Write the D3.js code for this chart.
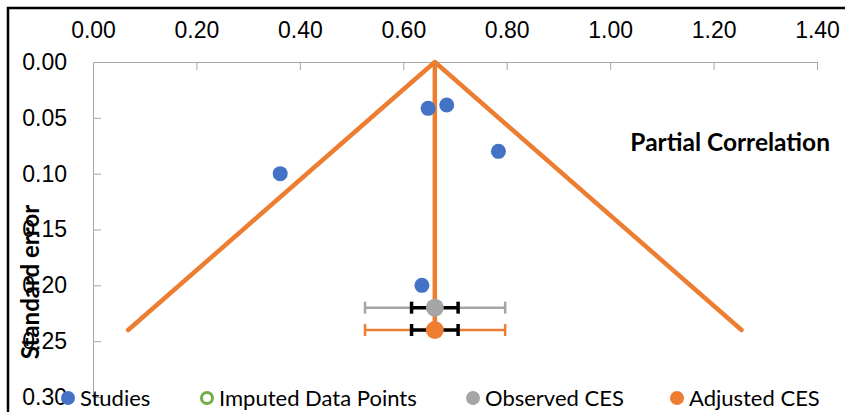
<!DOCTYPE html>
<html>
<head>
<meta charset="utf-8">
<script src="https://cdn.jsdelivr.net/npm/d3@7"></script>
<style>
  body { margin: 0; background: #fff; }
  svg { font-family: Lato, "Noto Sans", sans-serif; }
  .axis path, .axis line { stroke: #a6a6a6; }
  .axis text { fill: #000; font-size: 23px; }
</style>
</head>
<body>
<svg id="chart" width="845" height="412"></svg>
<script>
// study estimates (partial correlation) and their standard errors
const studyEffect = [0.362, 0.648, 0.684, 0.784, 0.636];
const studySE = [0.100, 0.0415, 0.0385, 0.080, 0.200];

// funnel outline: left foot, apex, right foot
const funnelEffect = [0.068, 0.661, 1.254];
const funnelSE = [0.24, 0.00, 0.24];

// combined effect sizes
const cesLabels = ['Observed CES', 'Adjusted CES'];
const cesEffect = [0.661, 0.661];
const cesSE = [0.22, 0.24];
const cesOuter = [[0.526, 0.797], [0.526, 0.797]];
const cesInner = [[0.616, 0.706], [0.616, 0.706]];

const xTicks = [0, 0.2, 0.4, 0.6, 0.8, 1.0, 1.2, 1.4];
const yTicks = [0, 0.05, 0.10, 0.15, 0.20, 0.25, 0.30];

const legendLabels = ['Studies', 'Imputed Data Points', 'Observed CES', 'Adjusted CES'];

const colors = { blue: '#4472c4', orange: '#ed7d31', gray: '#a5a5a5', green: '#70ad47' };

const svg = d3.select('#chart');

// outer frame (only top and left edges fall inside the picture)
svg.append('rect')
  .attr('x', 8).attr('y', 8)
  .attr('width', 900).attr('height', 500)
  .attr('fill', 'none').attr('stroke', '#000').attr('stroke-width', 2.5);

const x = d3.scaleLinear().domain([0, 1.4]).range([93, 817]);
const y = d3.scaleLinear().domain([0, 0.3]).range([62, 397]);

// axes
const xAxisG = svg.append('g')
  .attr('class', 'axis x-axis')
  .attr('transform', `translate(0,${y(0)})`)
  .call(d3.axisTop(x).tickValues(xTicks).tickFormat(d3.format('.2f')).tickSize(-8).tickSizeOuter(0));
xAxisG.selectAll('text').attr('y', -24).attr('dy', 0);

const yAxisG = svg.append('g')
  .attr('class', 'axis y-axis')
  .attr('transform', `translate(${x(0)},0)`)
  .call(d3.axisLeft(y).tickValues(yTicks).tickFormat(d3.format('.2f')).tickSize(-8).tickSizeOuter(0));
yAxisG.selectAll('text').attr('x', -26);
yAxisG.select('.tick:first-of-type line').remove();
xAxisG.select('.tick:first-of-type line').remove();

// axis titles
svg.append('text')
  .attr('transform', `translate(39,282) rotate(-90)`)
  .attr('text-anchor', 'middle')
  .style('font-size', '24px').style('font-weight', 'bold')
  .text('Standard error');

svg.append('text')
  .attr('x', 830).attr('y', 151)
  .attr('text-anchor', 'end')
  .style('font-size', '24.5px').style('font-weight', 'bold')
  .text('Partial Correlation');

// funnel
const funnel = funnelEffect.map((d, i) => [d, funnelSE[i]]);
svg.append('path')
  .datum(funnel)
  .attr('fill', 'none')
  .attr('stroke', colors.orange)
  .attr('stroke-width', 4.5)
  .attr('stroke-linecap', 'round')
  .attr('stroke-linejoin', 'round')
  .attr('d', d3.line().x(d => x(d[0])).y(d => y(d[1])));

// vertical line at adjusted estimate
svg.append('line')
  .attr('x1', x(cesEffect[1])).attr('x2', x(cesEffect[1]))
  .attr('y1', y(0)).attr('y2', y(cesSE[1]))
  .attr('stroke', colors.orange).attr('stroke-width', 4.5);

// error bars
const barColors = [colors.gray, colors.orange];
function errorBar(g, lo, hi, yy, color, width) {
  g.append('line')
    .attr('x1', x(lo)).attr('x2', x(hi)).attr('y1', yy).attr('y2', yy)
    .attr('stroke', color).attr('stroke-width', width);
  [lo, hi].forEach(v => {
    g.append('line')
      .attr('x1', x(v)).attr('x2', x(v)).attr('y1', yy - 6).attr('y2', yy + 6)
      .attr('stroke', color).attr('stroke-width', width);
  });
}
const bars = svg.append('g');
cesEffect.forEach((d, i) => {
  errorBar(bars, cesOuter[i][0], cesOuter[i][1], y(cesSE[i]), barColors[i], 2.5);
  errorBar(bars, cesInner[i][0], cesInner[i][1], y(cesSE[i]), '#000', 3.5);
});

// studies
svg.append('g').selectAll('circle')
  .data(studyEffect.map((d, i) => ({ e: d, se: studySE[i] })))
  .join('circle')
  .attr('cx', d => x(d.e))
  .attr('cy', d => y(d.se))
  .attr('r', 7.5)
  .attr('fill', colors.blue);

// combined effect points
svg.append('g').selectAll('circle')
  .data(cesEffect.map((d, i) => ({ e: d, se: cesSE[i], c: barColors[i] })))
  .join('circle')
  .attr('cx', d => x(d.e))
  .attr('cy', d => y(d.se))
  .attr('r', 9)
  .attr('fill', d => d.c);

// legend
const legendX = [68, 207, 473, 677];
const legend = svg.append('g').attr('transform', 'translate(0,398)');
legendLabels.forEach((lab, i) => {
  const g = legend.append('g').attr('transform', `translate(${legendX[i]},0)`);
  if (i === 1) {
    g.append('circle').attr('r', 5.5).attr('fill', '#fff')
      .attr('stroke', colors.green).attr('stroke-width', 3);
  } else {
    g.append('circle').attr('r', 7)
      .attr('fill', [colors.blue, null, colors.gray, colors.orange][i]);
  }
  g.append('text')
    .attr('x', 12).attr('y', 0).attr('dy', '0.35em')
    .style('font-size', '22px')
    .text(lab);
});
</script>
</body>
</html>
